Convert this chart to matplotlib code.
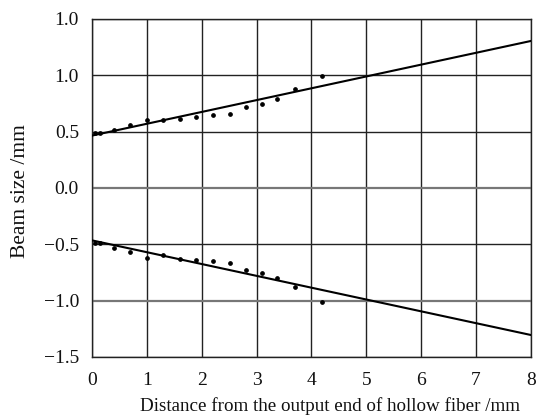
import matplotlib
matplotlib.use("Agg")
import matplotlib.pyplot as plt
import numpy as np

# Measured data points (upper and lower beam edges)
x_pts = [0.05, 0.15, 0.41, 0.69, 1.0, 1.29, 1.60, 1.90, 2.21, 2.51, 2.81, 3.09, 3.38, 3.70, 4.19]
upper_pts = [0.49, 0.49, 0.517, 0.559, 0.60, 0.603, 0.612, 0.633, 0.645, 0.657, 0.72, 0.743, 0.79, 0.876, 0.997]
lower_pts = [-0.49, -0.49, -0.532, -0.568, -0.618, -0.594, -0.627, -0.642, -0.648, -0.668, -0.73, -0.751, -0.796, -0.88, -1.009]

# Fitted lines (endpoints)
fit_x = [0, 8]
fit_upper = [0.465, 1.305]
fit_lower = [-0.465, -1.305]

xticks = [0, 1, 2, 3, 4, 5, 6, 7, 8]
yticks = [-1.5, -1.0, -0.5, 0.0, 0.5, 1.0, 1.5]
ytick_labels = ["\u22121.5", "\u22121.0", "\u22120.5", "0.0", "0.5", "1.0", "1.0"]

plt.rcParams["font.family"] = ["Liberation Serif", "DejaVu Serif"]

fig = plt.figure(figsize=(5.46, 4.19), dpi=100)
ax = fig.add_axes([0.1685, 0.148, 0.804, 0.8067])

for xv in xticks:
    ax.axvline(xv, color="#222222", lw=1.0, zorder=1)
for yv in yticks:
    if yv in (0.0, -1.0):
        ax.axhline(yv, color="#777777", lw=1.6, zorder=1)
    else:
        ax.axhline(yv, color="#222222", lw=1.0, zorder=1)

ax.plot(fit_x, fit_upper, color="black", lw=1.5, zorder=3)
ax.plot(fit_x, fit_lower, color="black", lw=1.5, zorder=3)
ax.plot(x_pts, upper_pts, "o", color="black", ms=2.4, zorder=4)
ax.plot(x_pts, lower_pts, "o", color="black", ms=2.4, zorder=4)

ax.set_xlim(0, 8)
ax.set_ylim(-1.5, 1.5)
ax.set_xticks(xticks)
ax.set_xticklabels([str(v) for v in xticks])
ax.set_yticks(yticks)
ax.set_yticklabels(ytick_labels)
ax.tick_params(axis="both", length=0, labelsize=14, colors="#111111")
ax.tick_params(axis="y", pad=9.4)
ax.tick_params(axis="x", pad=11)
for s in ax.spines.values():
    s.set_color("#222222")
    s.set_linewidth(1.0)

fig.text(329.5 / 546, 1 - 411 / 419, "Distance from the output end of hollow fiber /mm",
         fontsize=13.7, ha="center", va="baseline", color="#111111")
fig.text(21 / 546, 1 - 191 / 419, "Beam size /mm", fontsize=15.5, rotation=90,
         ha="center", va="center", color="#111111")

fig.savefig("out.png", dpi=100)
